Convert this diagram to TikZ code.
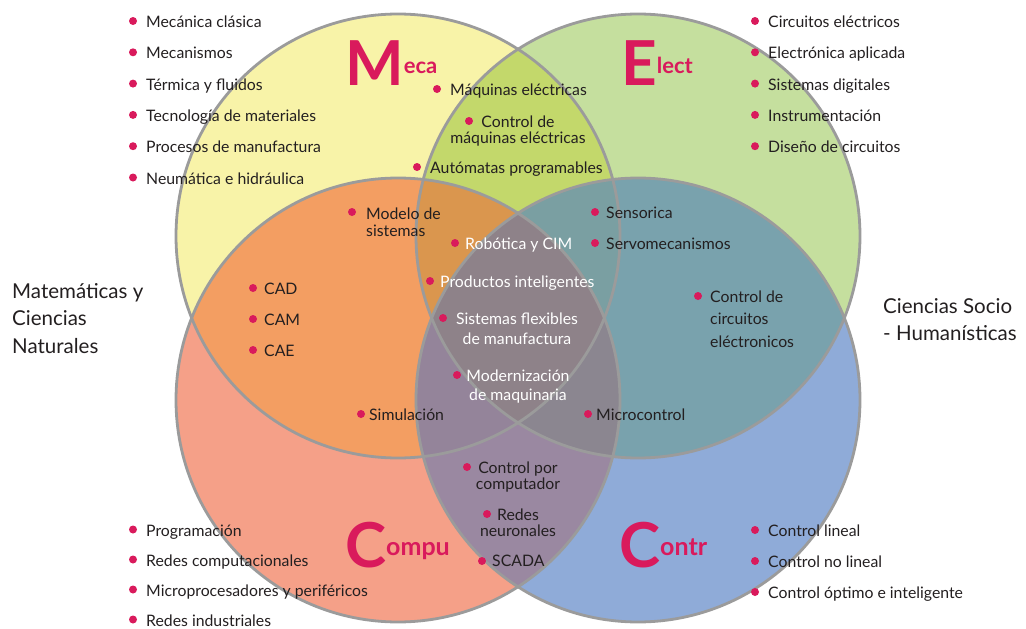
\documentclass[tikz,border=0pt]{standalone}
\usepackage{fontspec}
\setmainfont{Lato}
\usepackage{tikz}

\definecolor{cMeca}{HTML}{F8F3A8}
\definecolor{cElect}{HTML}{C5DF9E}
\definecolor{cCompu}{HTML}{F5A088}
\definecolor{cContr}{HTML}{8FABD8}
\definecolor{cME}{HTML}{C3D86B}
\definecolor{cMC}{HTML}{F39E62}
\definecolor{cEK}{HTML}{79A2AD}
\definecolor{cCK}{HTML}{9A88A1}
\definecolor{cMEC}{HTML}{DA964E}
\definecolor{cMEK}{HTML}{7A9FA2}
\definecolor{cMCK}{HTML}{94849A}
\definecolor{cECK}{HTML}{8B8690}
\definecolor{cAll}{HTML}{8E8289}
\definecolor{gris}{HTML}{9B9B9B}
\definecolor{rosa}{HTML}{D91A5C}
\definecolor{ink}{HTML}{231F20}

\def\pMeca{(398,236) circle[radius=222pt]}
\def\pElect{(638,236) circle[radius=222pt]}
\def\pCompu{(398,400) circle[radius=222pt]}
\def\pContr{(638,400) circle[radius=222pt]}

\begin{document}
\begin{tikzpicture}[x=1pt, y=-1pt,
    txt/.style={anchor=base west, inner sep=0pt, text=ink, font=\fontsize{15.8}{16}\selectfont},
    wtxt/.style={txt, text=white},
    mtxt/.style={txt, anchor=base, align=center},
    blob/.style={fill=rosa},
    big/.style={anchor=base west, inner sep=0pt, text=rosa, font=\bfseries\fontsize{62}{62}\selectfont},
    side/.style={anchor=base west, inner sep=0pt, text=ink, align=left, font=\fontsize{20.5}{27.5}\selectfont},
    ring/.style={draw=gris, line width=2.8pt}]
\useasboundingbox (0,0) rectangle (1026,629);

% base circles
\fill[cMeca] \pMeca; \fill[cElect] \pElect;
\fill[cCompu] \pCompu; \fill[cContr] \pContr;
% pairs
\begin{scope} \clip \pMeca; \fill[cME] \pElect; \fill[cMC] \pCompu; \end{scope}
\begin{scope} \clip \pContr; \fill[cEK] \pElect; \fill[cCK] \pCompu; \end{scope}
% triples
\begin{scope} \clip \pMeca; \clip \pElect; \fill[cMEC] \pCompu; \fill[cMEK] \pContr; \end{scope}
\begin{scope} \clip \pCompu; \clip \pContr; \fill[cMCK] \pMeca; \fill[cECK] \pElect; \end{scope}
% all four
\begin{scope} \clip \pMeca; \clip \pElect; \clip \pCompu; \fill[cAll] \pContr; \end{scope}
\draw[ring] \pMeca; \draw[ring] \pElect; \draw[ring] \pCompu; \draw[ring] \pContr;

% big titles
\node[big] (meca) at (345,85) {M\raisebox{12pt}{\fontsize{22}{22}\selectfont eca}};
\node[big] (elect) at (621,85) {E\raisebox{12pt}{\fontsize{22}{22}\selectfont lect}};
\node[big] (compu) at (345,567) {C\raisebox{12pt}{\fontsize{25}{25}\selectfont ompu}};
\node[big] (contr) at (619,567) {C\raisebox{12pt}{\fontsize{25}{25}\selectfont ontr}};

% outer lists
\foreach \t [count=\i from 0] in {Mecánica clásica,Mecanismos,Térmica y fluidos,
    Tecnología de materiales,Procesos de manufactura,Neumática e hidráulica}{
  \node[txt] (m\i) at (146,27.5+31.3*\i) {\t};
  \fill[blob] (133,21+31.3*\i) circle[radius=4pt];
}
\foreach \t [count=\i from 0] in {Circuitos eléctricos,Electrónica aplicada,
    Sistemas digitales,Instrumentación,Diseño de circuitos}{
  \node[txt] (e\i) at (768,27.5+31.3*\i) {\t};
  \fill[blob] (755,21+31.3*\i) circle[radius=4pt];
}
\foreach \t [count=\i from 0] in {Programación,Redes computacionales,
    Microprocesadores y periféricos,Redes industriales}{
  \node[txt] (c\i) at (146,536+30*\i) {\t};
  \fill[blob] (133,529.5+30*\i) circle[radius=4pt];
}
\foreach \t [count=\i from 0] in {Control lineal,Control no lineal,
    Control óptimo e inteligente}{
  \node[txt] (k\i) at (768,536.5+31*\i) {\t};
  \fill[blob] (755,530+31*\i) circle[radius=4pt];
}
\foreach \t [count=\i from 0] in {CAD,CAM,CAE}{
  \node[txt] (cad\i) at (264,294.5+31*\i) {\t};
  \fill[blob] (253,288+31*\i) circle[radius=4pt];
}

% inner items
\foreach \p in {(437,89),(469,121),(417,167),(352,212),(455,243),(430,281),
    (595,212),(595,243),(698,296),(443,318),(457,375),(361,414),(588,414),
    (467,467),(487,514),(482,561)}
  \fill[blob] \p circle[radius=4pt];
\node[txt] (maq) at (450,95.5) {Máquinas eléctricas};
\node[mtxt] (cmaq) at (518,143.5) {Control de\\máquinas eléctricas};
\node[txt] (auto) at (430,173.5) {Autómatas programables};
\node[txt, align=left, font=\fontsize{15.8}{17}\selectfont] (mod) at (366,236) {Modelo de\\sistemas};
\node[wtxt] (rob) at (465,249.5) {Robótica y CIM};
\node[wtxt] (prod) at (440,287.5) {Productos inteligentes};
\node[txt] (sens) at (606,218.5) {Sensorica};
\node[txt] (servo) at (606,249.5) {Servomecanismos};
\node[txt, align=left, font=\fontsize{15.8}{22.5}\selectfont] (ccirc) at (710,347) {Control de\\circuitos\\eléctronicos};
\node[mtxt, text=white, font=\fontsize{15.8}{20}\selectfont] (sfm) at (517,344.5) {Sistemas flexibles\\de manufactura};
\node[mtxt, text=white, font=\fontsize{15.8}{19}\selectfont] (moder) at (518,400.5) {Modernización\\de maquinaria};
\node[txt] (sim) at (369,420.5) {Simulación};
\node[txt] (micro) at (596,420.5) {Microcontrol};
\node[mtxt] (cpc) at (518,489.5) {Control por\\computador};
\node[mtxt, font=\fontsize{15.8}{15.5}\selectfont] (redes) at (518,536) {Redes\\neuronales};
\node[txt] (scada) at (492,566.5) {SCADA};

% side labels
\node[side] (mat) at (12,353) {Matemáticas y\\Ciencias\\Naturales};
\node[side] (soc) at (883,340.5) {Ciencias Socio\\- Humanísticas};
\end{tikzpicture}
\end{document}
